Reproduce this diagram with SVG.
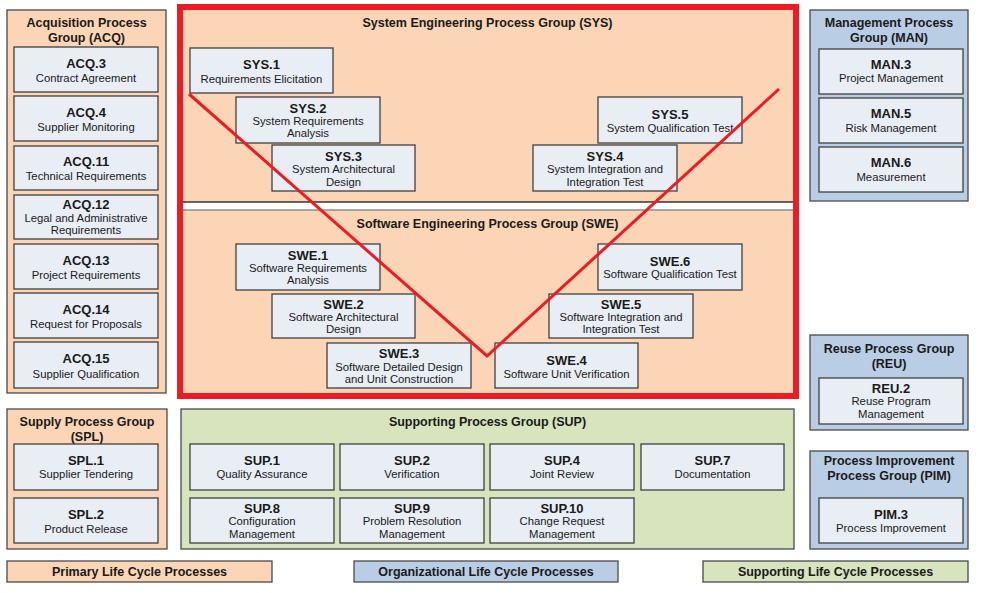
<svg xmlns="http://www.w3.org/2000/svg" width="983" height="593" viewBox="0 0 983 593">
<style>
text{font-family:"Liberation Sans",Arial,sans-serif;fill:#1a1a1a;text-anchor:middle}
.t{font-size:12.5px;font-weight:bold}
.id{font-size:13px;font-weight:bold}
.s{font-size:11.3px}
.peach{fill:#FBD5B5;stroke:#4a4a4a;stroke-width:1.3}
.blue{fill:#B9CDE4;stroke:#4a4a4a;stroke-width:1.3}
.green{fill:#D7E4BD;stroke:#4a4a4a;stroke-width:1.3}
.n{fill:#E9EDF4;stroke:#3F3F3F;stroke-width:1.3}
.lg{font-size:12.5px;font-weight:bold}
</style>
<rect width="983" height="593" fill="#ffffff"/>

<!-- Acquisition group -->
<g id="ACQ">
<rect class="peach" x="7" y="10" width="159" height="383"/>
<text class="t" x="86.5" y="26.5">Acquisition Process</text>
<text class="t" x="86.5" y="41.5">Group (ACQ)</text>
</g>
<g id="ACQ.3"><rect class="n" x="14" y="47" width="144" height="45"/><text class="id" x="86" y="67.5">ACQ.3</text><text class="s" x="86" y="82">Contract Agreement</text></g>
<g id="ACQ.4"><rect class="n" x="14" y="96" width="144" height="45"/><text class="id" x="86" y="116.5">ACQ.4</text><text class="s" x="86" y="131">Supplier Monitoring</text></g>
<g id="ACQ.11"><rect class="n" x="14" y="146" width="144" height="44"/><text class="id" x="86" y="166">ACQ.11</text><text class="s" x="86" y="180">Technical Requirements</text></g>
<g id="ACQ.12"><rect class="n" x="14" y="195" width="144" height="44"/><text class="id" x="86" y="208.5">ACQ.12</text><text class="s" x="86" y="222">Legal and Administrative</text><text class="s" x="86" y="234">Requirements</text></g>
<g id="ACQ.13"><rect class="n" x="14" y="244" width="144" height="45"/><text class="id" x="86" y="264.5">ACQ.13</text><text class="s" x="86" y="279">Project Requirements</text></g>
<g id="ACQ.14"><rect class="n" x="14" y="293" width="144" height="45"/><text class="id" x="86" y="313.5">ACQ.14</text><text class="s" x="86" y="328">Request for Proposals</text></g>
<g id="ACQ.15"><rect class="n" x="14" y="342" width="144" height="46"/><text class="id" x="86" y="363">ACQ.15</text><text class="s" x="86" y="377.5">Supplier Qualification</text></g>

<!-- SYS group -->
<g id="SYS">
<rect x="182" y="9" width="612" height="193" fill="#FBD5B5" stroke="#1a1a1a" stroke-width="1.3"/>
<text class="t" x="487.5" y="26.5">System Engineering Process Group (SYS)</text>
</g>
<g id="SWE">
<rect x="182" y="210" width="612" height="184" fill="#FBD5B5" stroke="#7f7f7f" stroke-width="1.3"/>
<text class="t" x="487.5" y="227.5">Software Engineering Process Group (SWE)</text>
</g>
<g id="SYS.1"><rect class="n" x="190" y="48" width="143" height="45"/><text class="id" x="261.5" y="68.5">SYS.1</text><text class="s" x="261.5" y="82.5">Requirements Elicitation</text></g>
<g id="SYS.2"><rect class="n" x="236" y="97" width="144" height="46"/><text class="id" x="308" y="112.5">SYS.2</text><text class="s" x="308" y="124.5">System Requirements</text><text class="s" x="308" y="137">Analysis</text></g>
<g id="SYS.3"><rect class="n" x="272" y="145" width="143" height="46"/><text class="id" x="343.5" y="160.5">SYS.3</text><text class="s" x="343.5" y="173">System Architectural</text><text class="s" x="343.5" y="185.5">Design</text></g>
<g id="SYS.4"><rect class="n" x="533" y="145" width="144" height="46"/><text class="id" x="605" y="160.5">SYS.4</text><text class="s" x="605" y="173">System Integration and</text><text class="s" x="605" y="185.5">Integration Test</text></g>
<g id="SYS.5"><rect class="n" x="598" y="97" width="144" height="46"/><text class="id" x="670" y="118.5">SYS.5</text><text class="s" x="670" y="131.5">System Qualification Test</text></g>
<g id="SWE.1"><rect class="n" x="236" y="244" width="144" height="46"/><text class="id" x="308" y="259.5">SWE.1</text><text class="s" x="308" y="271.5">Software Requirements</text><text class="s" x="308" y="284">Analysis</text></g>
<g id="SWE.2"><rect class="n" x="272" y="294" width="143" height="44"/><text class="id" x="343.5" y="308.5">SWE.2</text><text class="s" x="343.5" y="321">Software Architectural</text><text class="s" x="343.5" y="333">Design</text></g>
<g id="SWE.3"><rect class="n" x="327" y="343" width="144" height="45"/><text class="id" x="399" y="357.5">SWE.3</text><text class="s" x="399" y="370.5">Software Detailed Design</text><text class="s" x="399" y="383">and Unit Construction</text></g>
<g id="SWE.4"><rect class="n" x="495" y="343" width="143" height="45"/><text class="id" x="566.5" y="364.5">SWE.4</text><text class="s" x="566.5" y="377.5">Software Unit Verification</text></g>
<g id="SWE.5"><rect class="n" x="549" y="294" width="144" height="44"/><text class="id" x="621" y="308.5">SWE.5</text><text class="s" x="621" y="321">Software Integration and</text><text class="s" x="621" y="333">Integration Test</text></g>
<g id="SWE.6"><rect class="n" x="598" y="244" width="144" height="46"/><text class="id" x="670" y="265.5">SWE.6</text><text class="s" x="670" y="278">Software Qualification Test</text></g>

<!-- Management -->
<g id="MAN">
<rect class="blue" x="810" y="10" width="158" height="191"/>
<text class="t" x="889" y="26.5">Management Process</text>
<text class="t" x="889" y="41.5">Group (MAN)</text>
</g>
<g id="MAN.3"><rect class="n" x="819" y="49" width="144" height="45"/><text class="id" x="891" y="68.5">MAN.3</text><text class="s" x="891" y="82">Project Management</text></g>
<g id="MAN.5"><rect class="n" x="819" y="98" width="144" height="45"/><text class="id" x="891" y="117.5">MAN.5</text><text class="s" x="891" y="131.5">Risk Management</text></g>
<g id="MAN.6"><rect class="n" x="819" y="147" width="144" height="45"/><text class="id" x="891" y="166.5">MAN.6</text><text class="s" x="891" y="180.5">Measurement</text></g>

<g id="REU">
<rect class="blue" x="810" y="335" width="158" height="95"/>
<text class="t" x="889" y="352.5">Reuse Process Group</text>
<text class="t" x="889" y="367.5">(REU)</text>
</g>
<g id="REU.2"><rect class="n" x="819" y="378" width="144" height="46"/><text class="id" x="891" y="392.5">REU.2</text><text class="s" x="891" y="404.5">Reuse Program</text><text class="s" x="891" y="418">Management</text></g>

<g id="PIM">
<rect class="blue" x="810" y="451" width="158" height="98"/>
<text class="t" x="889" y="464.5">Process Improvement</text>
<text class="t" x="889" y="479.5">Process Group (PIM)</text>
</g>
<g id="PIM.3"><rect class="n" x="819" y="498" width="144" height="45"/><text class="id" x="891" y="518.5">PIM.3</text><text class="s" x="891" y="531.5">Process Improvement</text></g>

<!-- Supply -->
<g id="SPL">
<rect class="peach" x="7" y="409" width="160" height="140"/>
<text class="t" x="87" y="425.5">Supply Process Group</text>
<text class="t" x="87" y="440.5">(SPL)</text>
</g>
<g id="SPL.1"><rect class="n" x="14" y="444" width="144" height="46"/><text class="id" x="86" y="464.5">SPL.1</text><text class="s" x="86" y="478">Supplier Tendering</text></g>
<g id="SPL.2"><rect class="n" x="14" y="498" width="144" height="45"/><text class="id" x="86" y="518.5">SPL.2</text><text class="s" x="86" y="532.5">Product Release</text></g>

<!-- Supporting -->
<g id="SUP">
<rect class="green" x="181" y="409" width="613" height="140"/>
<text class="t" x="487.5" y="425.5">Supporting Process Group (SUP)</text>
</g>
<g id="SUP.1"><rect class="n" x="190" y="444" width="144" height="46"/><text class="id" x="262" y="464.5">SUP.1</text><text class="s" x="262" y="478">Quality Assurance</text></g>
<g id="SUP.2"><rect class="n" x="340" y="444" width="144" height="46"/><text class="id" x="412" y="464.5">SUP.2</text><text class="s" x="412" y="478">Verification</text></g>
<g id="SUP.4"><rect class="n" x="490" y="444" width="144" height="46"/><text class="id" x="562" y="464.5">SUP.4</text><text class="s" x="562" y="478">Joint Review</text></g>
<g id="SUP.7"><rect class="n" x="641" y="444" width="143" height="46"/><text class="id" x="712.5" y="464.5">SUP.7</text><text class="s" x="712.5" y="478">Documentation</text></g>
<g id="SUP.8"><rect class="n" x="190" y="498" width="144" height="45"/><text class="id" x="262" y="512.5">SUP.8</text><text class="s" x="262" y="525">Configuration</text><text class="s" x="262" y="537.5">Management</text></g>
<g id="SUP.9"><rect class="n" x="340" y="498" width="144" height="45"/><text class="id" x="412" y="512.5">SUP.9</text><text class="s" x="412" y="525">Problem Resolution</text><text class="s" x="412" y="537.5">Management</text></g>
<g id="SUP.10"><rect class="n" x="490" y="498" width="144" height="45"/><text class="id" x="562" y="512.5">SUP.10</text><text class="s" x="562" y="525">Change Request</text><text class="s" x="562" y="537.5">Management</text></g>

<!-- Legend -->
<g id="legend-primary"><rect class="peach" x="7" y="561" width="265" height="21"/><text class="lg" x="139.5" y="576">Primary Life Cycle Processes</text></g>
<g id="legend-organizational"><rect class="blue" x="354" y="561" width="264" height="21"/><text class="lg" x="486" y="576">Organizational Life Cycle Processes</text></g>
<g id="legend-supporting"><rect class="green" x="703" y="561" width="265" height="21"/><text class="lg" x="835.5" y="576">Supporting Life Cycle Processes</text></g>

<!-- Highlight frame and V-model connectors -->
<g id="connectors" fill="none" stroke="#ED1C24" stroke-linejoin="miter">
<rect x="180" y="7" width="616" height="389" stroke-width="6"/>
<polyline points="189,94 487,356 779,89" stroke-width="3"/>
</g>
</svg>
